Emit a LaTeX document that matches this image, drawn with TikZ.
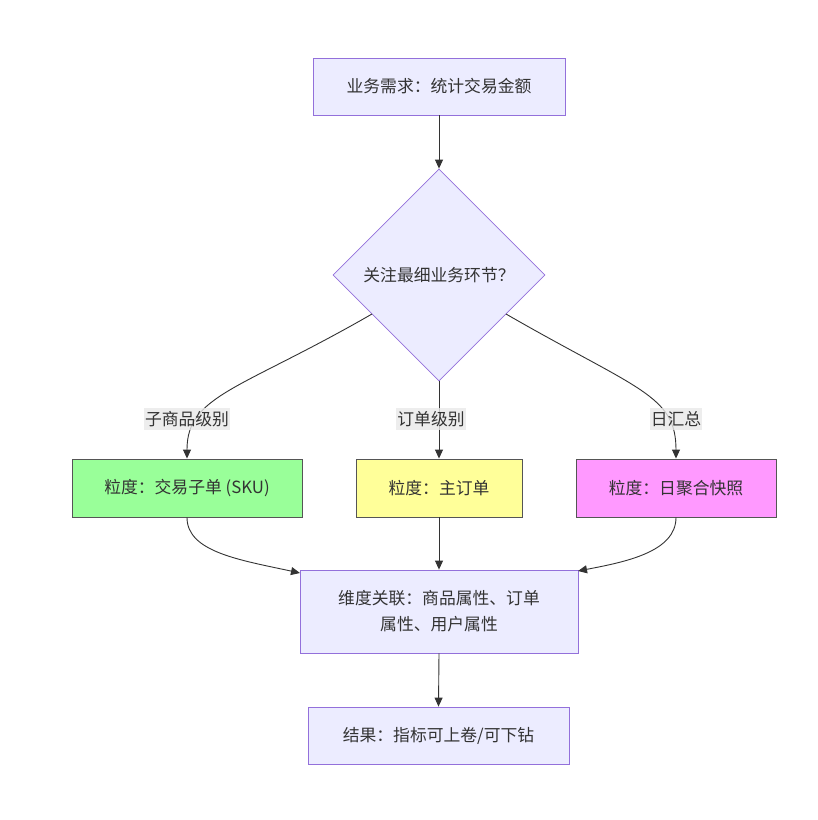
\documentclass[tikz,border=0pt]{standalone}
\usepackage{fontspec}
\setmainfont{Noto Sans CJK SC}
\usetikzlibrary{arrows.meta,shapes.geometric}
\definecolor{nodefill}{HTML}{ECECFF}
\definecolor{nodeline}{HTML}{9370DB}
\definecolor{edgecol}{HTML}{333333}
\definecolor{lblbg}{HTML}{E8E8E8}
\definecolor{gfill}{HTML}{99FF99}
\definecolor{yfill}{HTML}{FFFF99}
\definecolor{pfill}{HTML}{FF99FF}
\definecolor{boxline}{HTML}{555555}
\tikzset{
  base/.style={font=\fontsize{16.8}{26}\selectfont, text=edgecol, inner sep=0pt, align=center},
  procbox/.style={base, draw=nodeline, fill=nodefill, line width=0.8pt},
  colbox/.style={base, draw=boxline, line width=0.9pt},
  decis/.style={base, diamond, draw=nodeline, fill=nodefill, line width=0.8pt},
  elabel/.style={base, fill=lblbg, fill opacity=0.8, text opacity=1, inner xsep=1pt, inner ysep=3pt},
  conn/.style={draw=edgecol, line width=0.9pt, -{Triangle[length=9pt,width=8pt]}}
}
\begin{document}
\begin{tikzpicture}[x=1pt,y=-1pt]
\useasboundingbox (0,0) rectangle (818,820);
\node[procbox, minimum width=252pt, minimum height=57pt] (req) at (439,86.5) {业务需求：统计交易金额};
\node[decis, minimum width=212pt, minimum height=212pt, inner sep=0pt] (dec) at (439,275) {};
\node[base] at (439,275) {关注最细业务环节？};
\node[colbox, fill=gfill, minimum width=230pt, minimum height=58pt] (sku) at (187,488) {粒度：交易子单 (SKU)};
\node[colbox, fill=yfill, minimum width=166pt, minimum height=58pt] (ord) at (439,488) {粒度：主订单};
\node[colbox, fill=pfill, minimum width=200pt, minimum height=58pt] (day) at (676,488) {粒度：日聚合快照};
\node[procbox, minimum width=278pt, minimum height=83pt] (dim) at (439,611.5) {维度关联：商品属性、订单\\属性、用户属性};
\node[procbox, minimum width=261pt, minimum height=57pt] (res) at (438.5,735.5) {结果：指标可上卷/可下钻};

\coordinate (dl) at (372,314);
\coordinate (dr) at (506,314);
\draw[conn] (req.south) -- (dec.north);
\draw[conn] (dl) .. controls (240,390) and (187,395) .. (sku.north);
\draw[conn] (dec.south) -- (ord.north);
\draw[conn] (dr) .. controls (638,390) and (676,395) .. (day.north);
\node[elabel] (l1) at (187,419) {子商品级别};
\node[elabel] (l2) at (431,419) {订单级别};
\node[elabel] (l3) at (676,419) {日汇总};

\coordinate (dimL) at (300,573);
\coordinate (dimR) at (578,571);
\draw[conn] (sku.south) .. controls (187,552) and (240,560) .. (dimL);
\draw[conn] (ord.south) -- (dim.north);
\draw[conn] (day.south) .. controls (676,552) and (625,562) .. (dimR);
\draw[conn] (dim.south) -- (res.north);
\end{tikzpicture}
\end{document}
